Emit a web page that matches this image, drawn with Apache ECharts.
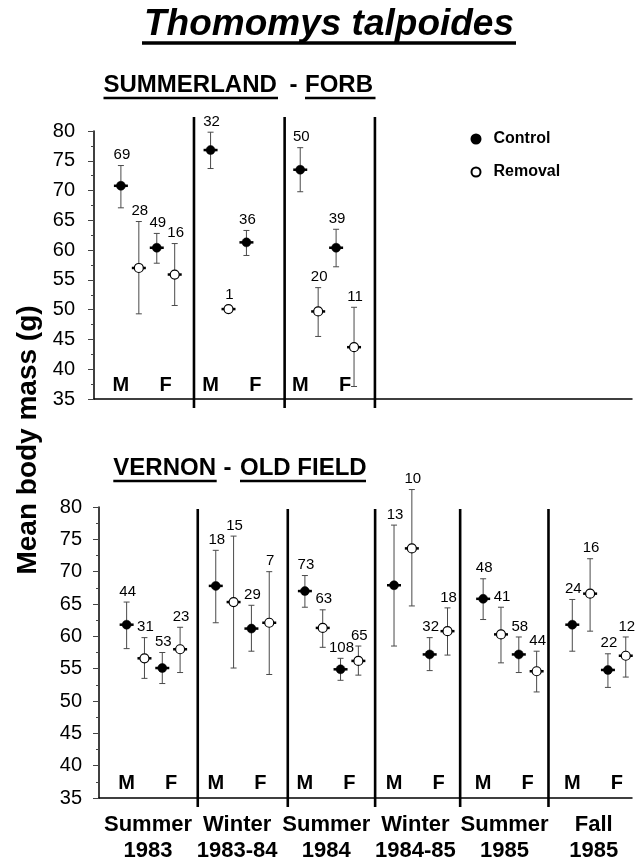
<!DOCTYPE html>
<html><head><meta charset="utf-8">
<script src="https://cdn.jsdelivr.net/npm/echarts/dist/echarts.min.js"></script>
<style>html,body{margin:0;padding:0;background:#fff}#c{width:641px;height:860px}</style>
</head><body><div id="c"></div>
<script>
// ---------------- DATA ----------------
// slot order inside every season: [M Control, M Removal, F Control, F Removal]
const treatments = ['Control', 'Removal'];
const sexLabels = ['M', 'F'];
const yTicks = [35, 40, 45, 50, 55, 60, 65, 70, 75, 80];

// SUMMERLAND - FORB
const summerlandSeasons = ['Summer 1983', 'Winter 1983-84', 'Summer 1984'];
const summerlandMean  = [[70.8, 57.0, 60.4, 55.9], [76.8, 50.1, 61.3, null], [73.5, 49.7, 60.4, 43.7]];
const summerlandLower = [[67.1, 49.3, 57.8, 50.7], [73.7, 50.1, 59.1, null], [69.8, 45.5, 57.2, 37.1]];
const summerlandUpper = [[74.2, 64.8, 62.8, 61.1], [79.8, 50.1, 63.3, null], [77.2, 53.7, 63.5, 50.4]];
const summerlandN     = [[69, 28, 49, 16], [32, 1, 36, null], [50, 20, 39, 11]];
const summerlandBoundaries = [1.015, 2.026, 3.033];

// VERNON - OLD FIELD
const vernonSeasons = ['Summer\n1983', 'Winter\n1983-84', 'Summer\n1984', 'Winter\n1984-85', 'Summer\n1985', 'Fall\n1985'];
const vernonMean  = [[61.8, 56.6, 55.1, 58.0], [67.8, 65.3, 61.2, 62.1], [67.0, 61.3, 54.9, 56.2],
                     [67.9, 73.6, 57.2, 60.8], [65.8, 60.3, 57.2, 54.6], [61.8, 66.6, 54.8, 57.0]];
const vernonLower = [[58.1, 53.5, 52.7, 54.4], [62.1, 55.1, 57.7, 54.1], [64.5, 58.3, 53.2, 54.0],
                     [58.5, 64.7, 54.7, 57.1], [62.6, 55.9, 54.4, 51.4], [57.7, 60.8, 52.1, 53.7]];
const vernonUpper = [[65.3, 59.8, 57.5, 61.4], [73.3, 75.5, 64.8, 70.0], [69.4, 64.1, 56.6, 58.5],
                     [77.2, 82.7, 59.8, 64.4], [68.9, 64.5, 59.9, 57.7], [65.7, 72.0, 57.3, 59.9]];
const vernonN     = [[44, 31, 53, 23], [18, 15, 29, 7], [73, 63, 108, 65],
                     [13, 10, 32, 18], [48, 41, 58, 44], [24, 16, 22, 12]];
const vernonBoundaries = [0.998, 2.008, 2.988, 3.942, 4.933];

// ---------------- LAYOUT / STYLE ----------------
const FONT = '"Liberation Sans", Arial, Helvetica, sans-serif';
const SLOT = [0.2, 0.4, 0.6, 0.8];     // position of each slot inside a season
const SEX_POS = [0.2, 0.7];            // M / F letter position inside a season
const SEASON_POS = 0.44;

function buildPoints(mean, lower, upper, n) {
  const pts = [];
  mean.forEach((row, g) => row.forEach((m, s) => {
    if (m == null) return;
    pts.push([g + SLOT[s], m, lower[g][s], upper[g][s], n[g][s], s % 2]);
  }));
  return pts;
}
const topPts = buildPoints(summerlandMean, summerlandLower, summerlandUpper, summerlandN);
const botPts = buildPoints(vernonMean, vernonLower, vernonUpper, vernonN);

function renderErr(params, api) {
  const x = api.value(0), m = api.value(1), lo = api.value(2), hi = api.value(3), n = api.value(4);
  const pm = api.coord([x, m]), pl = api.coord([x, lo]), ph = api.coord([x, hi]);
  const ch = [];
  const st = { stroke: '#4a4a4a', lineWidth: 1 };
  if (hi > lo) {
    ch.push({ type: 'line', shape: { x1: pm[0], y1: pl[1], x2: pm[0], y2: ph[1] }, style: st });
    ch.push({ type: 'line', shape: { x1: pm[0] - 3, y1: pl[1], x2: pm[0] + 3, y2: pl[1] }, style: st });
    ch.push({ type: 'line', shape: { x1: pm[0] - 3, y1: ph[1], x2: pm[0] + 3, y2: ph[1] }, style: st });
  }
  ch.push({ type: 'line', shape: { x1: pm[0] - 7, y1: pm[1], x2: pm[0] + 7, y2: pm[1] }, style: { stroke: '#000', lineWidth: 2.5 } });
  const ly = (hi > m ? ph[1] : pm[1] - 4) - 10.5;
  ch.push({ type: 'text', x: pm[0] + 1, y: ly, style: { text: String(n), fill: '#000', font: '15px ' + FONT, align: 'center', verticalAlign: 'middle' } });
  return { type: 'group', children: ch };
}
function makeDivider(topExt) {
  return function (params, api) {
    const cs = params.coordSys;
    const p = api.coord([api.value(0), 50]);
    return { type: 'line', shape: { x1: p[0], y1: cs.y - topExt, x2: p[0], y2: cs.y + cs.height + 9 }, style: { stroke: '#000', lineWidth: 2.6 } };
  };
}
function renderSex(params, api) {
  const p = api.coord([api.value(0), 37.3]);
  return { type: 'text', x: p[0], y: p[1], style: { text: sexLabels[params.dataIndex % 2], fill: '#000', font: 'bold 20px ' + FONT, align: 'center', verticalAlign: 'middle' } };
}
function renderSeason(params, api) {
  const p = api.coord([api.value(0), 35]);
  return { type: 'text', x: p[0], y: p[1] + 40, style: { text: vernonSeasons[params.dataIndex], fill: '#000', font: 'bold 22px ' + FONT, align: 'center', verticalAlign: 'middle', lineHeight: 26 } };
}
function sexData(nSeasons) {
  const d = [];
  for (let g = 0; g < nSeasons; g++) { d.push([g + SEX_POS[0]]); d.push([g + SEX_POS[1]]); }
  return d;
}

function xAxisDef(grid, min, max) {
  return { gridIndex: grid, type: 'value', min: min, max: max,
    axisLine: { show: true, onZero: false, lineStyle: { color: '#000', width: 1.5 } },
    axisTick: { show: false }, axisLabel: { show: false }, splitLine: { show: false } };
}
function yAxisDef(grid, margin) {
  return { gridIndex: grid, type: 'value', min: yTicks[0], max: yTicks[yTicks.length - 1], interval: yTicks[1] - yTicks[0],
    axisLine: { show: true, onZero: false, lineStyle: { color: '#000', width: 1.5 } },
    axisTick: { show: true, length: 6, lineStyle: { color: '#444', width: 1 } },
    minorTick: { show: true, splitNumber: 2, length: 3, lineStyle: { color: '#444', width: 1 } },
    axisLabel: { fontSize: 20, color: '#000', margin: margin, fontFamily: FONT },
    splitLine: { show: false }, minorSplitLine: { show: false } };
}
function scatterDef(name, xi, pts, t) {
  const isC = t === 0;
  return { name: name, type: 'scatter', xAxisIndex: xi, yAxisIndex: xi, z: 5, symbol: 'circle', symbolSize: 9,
    data: pts.filter(p => p[5] === t).map(p => [p[0], p[1]]),
    itemStyle: isC ? { color: '#000', borderColor: '#000', borderWidth: 0.5, opacity: 1 } : { color: '#fff', borderColor: '#000', borderWidth: 1.2, opacity: 1 },
    emphasis: { disabled: true }, silent: true, animation: false };
}

const chart = echarts.init(document.getElementById('c'), null, { renderer: 'canvas' });
const option = {
  backgroundColor: '#fff',
  animation: false,
  textStyle: { fontFamily: FONT },
  grid: [
    { left: 94, top: 131, width: 538, height: 268, containLabel: false, outerBoundsMode: 'none' },
    { left: 99, top: 507, width: 533, height: 291, containLabel: false, outerBoundsMode: 'none' }
  ],
  xAxis: [xAxisDef(0, -0.1, 5.9), xAxisDef(1, -0.11, 5.87)],
  yAxis: [yAxisDef(0, 19), yAxisDef(1, 17)],
  legend: {
    data: treatments, orient: 'vertical', left: 465.5, top: 126, itemWidth: 9, itemHeight: 9, itemGap: 17,
    selectedMode: false, icon: 'circle',
    textStyle: { fontSize: 16, fontWeight: 'bold', color: '#000', fontFamily: FONT, padding: [0, 0, 0, 8] }
  },
  graphic: [
    { type: 'text', x: 329, y: 25, style: { text: 'Thomomys talpoides', font: 'italic bold 37px ' + FONT, fill: '#000', align: 'center', verticalAlign: 'middle' } },
    { type: 'line', shape: { x1: 142, y1: 43, x2: 516, y2: 43 }, style: { stroke: '#000', lineWidth: 3.5 } },
    { type: 'text', x: 103.5, y: 85, style: { text: 'SUMMERLAND', font: 'bold 24px ' + FONT, fill: '#000', align: 'left', verticalAlign: 'middle' } },
    { type: 'text', x: 293.5, y: 85, style: { text: '-', font: 'bold 24px ' + FONT, fill: '#000', align: 'center', verticalAlign: 'middle' } },
    { type: 'text', x: 305, y: 85, style: { text: 'FORB', font: 'bold 24px ' + FONT, fill: '#000', align: 'left', verticalAlign: 'middle' } },
    { type: 'line', shape: { x1: 103.5, y1: 98, x2: 278, y2: 98 }, style: { stroke: '#000', lineWidth: 2.5 } },
    { type: 'line', shape: { x1: 305, y1: 98, x2: 375.5, y2: 98 }, style: { stroke: '#000', lineWidth: 2.5 } },
    { type: 'text', x: 113.3, y: 468.5, style: { text: 'VERNON', font: 'bold 24px ' + FONT, fill: '#000', align: 'left', verticalAlign: 'middle' } },
    { type: 'text', x: 227.5, y: 468.5, style: { text: '-', font: 'bold 24px ' + FONT, fill: '#000', align: 'center', verticalAlign: 'middle' } },
    { type: 'text', x: 240, y: 468.5, style: { text: 'OLD FIELD', font: 'bold 24px ' + FONT, fill: '#000', align: 'left', verticalAlign: 'middle' } },
    { type: 'line', shape: { x1: 113.3, y1: 481, x2: 216.7, y2: 481 }, style: { stroke: '#000', lineWidth: 2.5 } },
    { type: 'line', shape: { x1: 240, y1: 481, x2: 366, y2: 481 }, style: { stroke: '#000', lineWidth: 2.5 } },
    { type: 'text', x: 28, y: 440, rotation: Math.PI / 2, style: { text: 'Mean body mass (g)', font: 'bold 28px ' + FONT, fill: '#000', align: 'center', verticalAlign: 'middle' } }
  ],
  series: [
    { type: 'custom', name: 'dividersTop', xAxisIndex: 0, yAxisIndex: 0, clip: false, silent: true, z: 1,
      renderItem: makeDivider(14), data: summerlandBoundaries.map(v => [v]), encode: { x: 0 } },
    { type: 'custom', name: 'dividersBottom', xAxisIndex: 1, yAxisIndex: 1, clip: false, silent: true, z: 1,
      renderItem: makeDivider(-2), data: vernonBoundaries.map(v => [v]), encode: { x: 0 } },
    { type: 'custom', name: 'errTop', xAxisIndex: 0, yAxisIndex: 0, clip: false, silent: true, z: 2,
      renderItem: renderErr, data: topPts, encode: { x: 0, y: 1 } },
    { type: 'custom', name: 'errBottom', xAxisIndex: 1, yAxisIndex: 1, clip: false, silent: true, z: 2,
      renderItem: renderErr, data: botPts, encode: { x: 0, y: 1 } },
    { type: 'custom', name: 'sexTop', xAxisIndex: 0, yAxisIndex: 0, clip: false, silent: true, z: 2,
      renderItem: renderSex, data: sexData(summerlandSeasons.length), encode: { x: 0 } },
    { type: 'custom', name: 'sexBottom', xAxisIndex: 1, yAxisIndex: 1, clip: false, silent: true, z: 2,
      renderItem: renderSex, data: sexData(vernonSeasons.length), encode: { x: 0 } },
    { type: 'custom', name: 'seasons', xAxisIndex: 1, yAxisIndex: 1, clip: false, silent: true, z: 2,
      renderItem: renderSeason, data: vernonSeasons.map((s, i) => [i + SEASON_POS]), encode: { x: 0 } },
    scatterDef('Control', 0, topPts, 0),
    scatterDef('Removal', 0, topPts, 1),
    scatterDef('Control', 1, botPts, 0),
    scatterDef('Removal', 1, botPts, 1)
  ]
};
chart.setOption(option);
</script>
</body></html>
